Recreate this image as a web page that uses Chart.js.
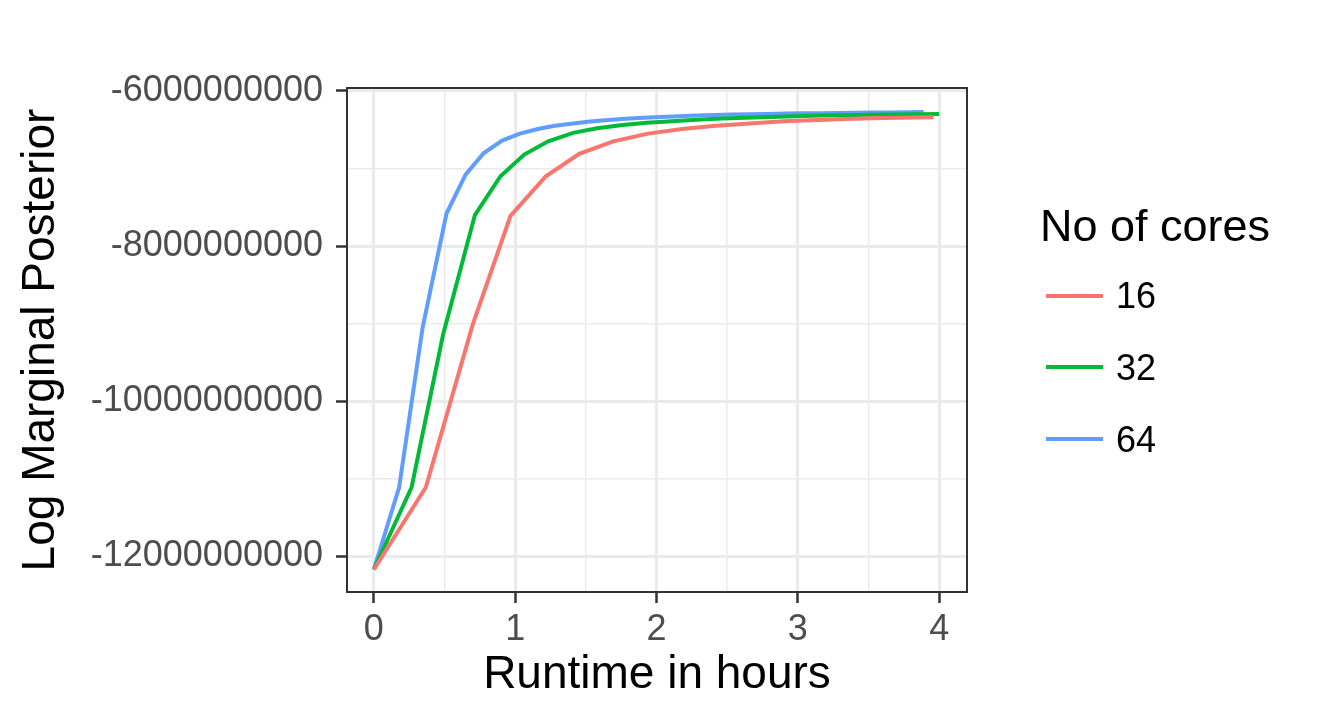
<!DOCTYPE html>
<html>
<head>
<meta charset="utf-8">
<script src="https://cdn.jsdelivr.net/npm/chart.js@4/dist/chart.umd.min.js"></script>
<style>
  body { margin: 0; background: #fff; }
  #wrap { position: relative; width: 1320px; height: 720px; font-family: "Liberation Sans", Arial, sans-serif; }
  #legend { position: absolute; left: 0; top: 0; }
  .lg-title { position: absolute; left: 1040px; top: 203px; font-size: 45px; line-height: 45px; color: #000; white-space: nowrap; }
  .lg-line { position: absolute; left: 1046px; width: 57px; height: 4px; }
  .lg-text { position: absolute; left: 1116px; font-size: 36px; line-height: 36px; color: #000; }
</style>
</head>
<body>
<div id="wrap">
  <canvas id="myChart" width="1320" height="720"></canvas>
  <div id="legend"></div>
</div>
<script>
// runtime (hours) and log marginal posterior
const hours16 = [0, 0.368, 0.70, 0.967, 1.217, 1.453, 1.694, 1.94, 2.18, 2.42, 2.66, 2.90, 3.14, 3.38, 3.62, 3.86, 3.96];
const lmp16 = [-12.17e9, -11.11e9, -9.01e9, -7.61e9, -7.10e9, -6.81e9, -6.65e9, -6.55e9, -6.49e9, -6.45e9,
               -6.42e9, -6.39e9, -6.375e9, -6.36e9, -6.35e9, -6.343e9, -6.34e9];

const hours32 = [0, 0.267, 0.49, 0.715, 0.896, 1.064, 1.234, 1.41, 1.58, 1.76, 1.93, 2.11, 2.28, 2.46, 2.63,
                 2.81, 2.98, 3.16, 3.33, 3.51, 3.68, 3.86, 4.0];
const lmp32 = [-12.17e9, -11.11e9, -9.14e9, -7.60e9, -7.10e9, -6.82e9, -6.65e9, -6.54e9, -6.48e9, -6.44e9,
               -6.41e9, -6.39e9, -6.37e9, -6.355e9, -6.345e9, -6.335e9, -6.325e9, -6.318e9, -6.312e9,
               -6.307e9, -6.303e9, -6.30e9, -6.298e9];

const hours64 = [0, 0.179, 0.345, 0.514, 0.649, 0.778, 0.908, 1.033, 1.16, 1.28, 1.41, 1.53, 1.66, 1.78, 1.91,
                 2.03, 2.16, 2.28, 2.41, 2.53, 2.66, 2.78, 2.91, 3.03, 3.16, 3.28, 3.41, 3.53, 3.66, 3.78, 3.89];
const lmp64 = [-12.17e9, -11.11e9, -9.05e9, -7.58e9, -7.08e9, -6.80e9, -6.64e9, -6.55e9, -6.49e9, -6.45e9,
               -6.42e9, -6.395e9, -6.375e9, -6.36e9, -6.345e9, -6.335e9, -6.325e9, -6.318e9, -6.311e9,
               -6.305e9, -6.30e9, -6.296e9, -6.292e9, -6.289e9, -6.286e9, -6.283e9, -6.281e9, -6.279e9,
               -6.277e9, -6.275e9, -6.273e9];

const coreLabels = ['16', '32', '64'];
const coreColors = ['#F8766D', '#00BA38', '#619CFF'];

const xMajor = [0, 1, 2, 3, 4];
const xMinor = [0.5, 1.5, 2.5, 3.5];
const yMajor = [-12e9, -10e9, -8e9, -6e9];
const yMinor = [-11e9, -9e9, -7e9];

const FONT = '"Liberation Sans", Arial, sans-serif';

function toPoints(xs, ys) {
    return xs.map((x, i) => ({ x: x, y: ys[i] }));
}

function setTicks(major, minor) {
    return scale => {
        scale.ticks = major.concat(minor).sort((a, b) => a - b).map(v => ({ value: v }));
    };
}

const isMajor = (list, v) => list.some(m => Math.abs(m - v) < 1e-6 * Math.max(1, Math.abs(m)));

// panel border like ggplot's theme_bw
const panelBorder = {
    id: 'panelBorder',
    afterDraw(chart) {
        const { ctx, chartArea: a } = chart;
        ctx.save();
        ctx.strokeStyle = '#333333';
        ctx.lineWidth = 2;
        ctx.strokeRect(a.left, a.top, a.right - a.left, a.bottom - a.top);
        ctx.restore();
    }
};

const series = [[hours16, lmp16], [hours32, lmp32], [hours64, lmp64]];

const ctx = document.getElementById('myChart').getContext('2d');
const myChart = new Chart(ctx, {
    type: 'line',
    data: {
        datasets: series.map((s, i) => ({
            label: coreLabels[i],
            data: toPoints(s[0], s[1]),
            borderColor: coreColors[i],
            borderWidth: 4,
            pointRadius: 0,
            tension: 0,
            fill: false
        }))
    },
    options: {
        responsive: false,
        animation: false,
        layout: { padding: { left: 0, top: 88, right: 353, bottom: 0 } },
        plugins: {
            legend: { display: false },
            tooltip: { enabled: false }
        },
        scales: {
            x: {
                type: 'linear',
                min: -0.19,
                max: 4.197,
                afterBuildTicks: setTicks(xMajor, xMinor),
                afterFit(scale) {
                    scale.height = 128;
                    scale.paddingLeft = 0;
                    scale.paddingRight = 0;
                },
                border: { display: false },
                grid: {
                    color: '#EBEBEB',
                    lineWidth: c => isMajor(xMajor, c.tick.value) ? 3 : 1.5,
                    drawTicks: true,
                    tickLength: 11,
                    tickColor: c => isMajor(xMajor, c.tick.value) ? '#333333' : 'rgba(0,0,0,0)',
                    tickWidth: 2.5
                },
                ticks: {
                    autoSkip: false,
                    maxRotation: 0,
                    padding: 5,
                    color: '#4D4D4D',
                    font: { family: FONT, size: 36 },
                    callback: v => isMajor(xMajor, v) ? String(v) : ''
                },
                title: {
                    display: true,
                    text: 'Runtime in hours',
                    color: '#000',
                    font: { family: FONT, size: 46 },
                    padding: { top: 0, bottom: 17 }
                }
            },
            y: {
                type: 'linear',
                min: -12.46e9,
                max: -5.962e9,
                afterBuildTicks: setTicks(yMajor, yMinor),
                afterFit(scale) {
                    scale.width = 347;
                    scale.paddingTop = 0;
                    scale.paddingBottom = 0;
                },
                border: { display: false },
                grid: {
                    color: '#EBEBEB',
                    lineWidth: c => isMajor(yMajor, c.tick.value) ? 3 : 1.5,
                    drawTicks: true,
                    tickLength: 11,
                    tickColor: c => isMajor(yMajor, c.tick.value) ? '#333333' : 'rgba(0,0,0,0)',
                    tickWidth: 2.5
                },
                ticks: {
                    autoSkip: false,
                    padding: 13,
                    color: '#4D4D4D',
                    font: { family: FONT, size: 36 },
                    callback: v => isMajor(yMajor, v) ? String(v) : ''
                },
                title: {
                    display: true,
                    text: 'Log Marginal Posterior',
                    color: '#000',
                    font: { family: FONT, size: 46 },
                    padding: { top: 14, bottom: 0 }
                }
            }
        }
    },
    plugins: [panelBorder]
});

// html legend built from the chart's datasets
function buildLegend(chart) {
    const box = document.getElementById('legend');
    box.innerHTML = '<div class="lg-title">No of cores</div>';
    chart.data.datasets.forEach((ds, i) => {
        const cy = 295.5 + i * 71.75;
        const line = document.createElement('div');
        line.className = 'lg-line';
        line.style.top = (cy - 2) + 'px';
        line.style.background = ds.borderColor;
        const txt = document.createElement('div');
        txt.className = 'lg-text';
        txt.style.top = (cy - 17.5) + 'px';
        txt.textContent = ds.label;
        box.appendChild(line);
        box.appendChild(txt);
    });
}
buildLegend(myChart);
</script>
</body>
</html>
